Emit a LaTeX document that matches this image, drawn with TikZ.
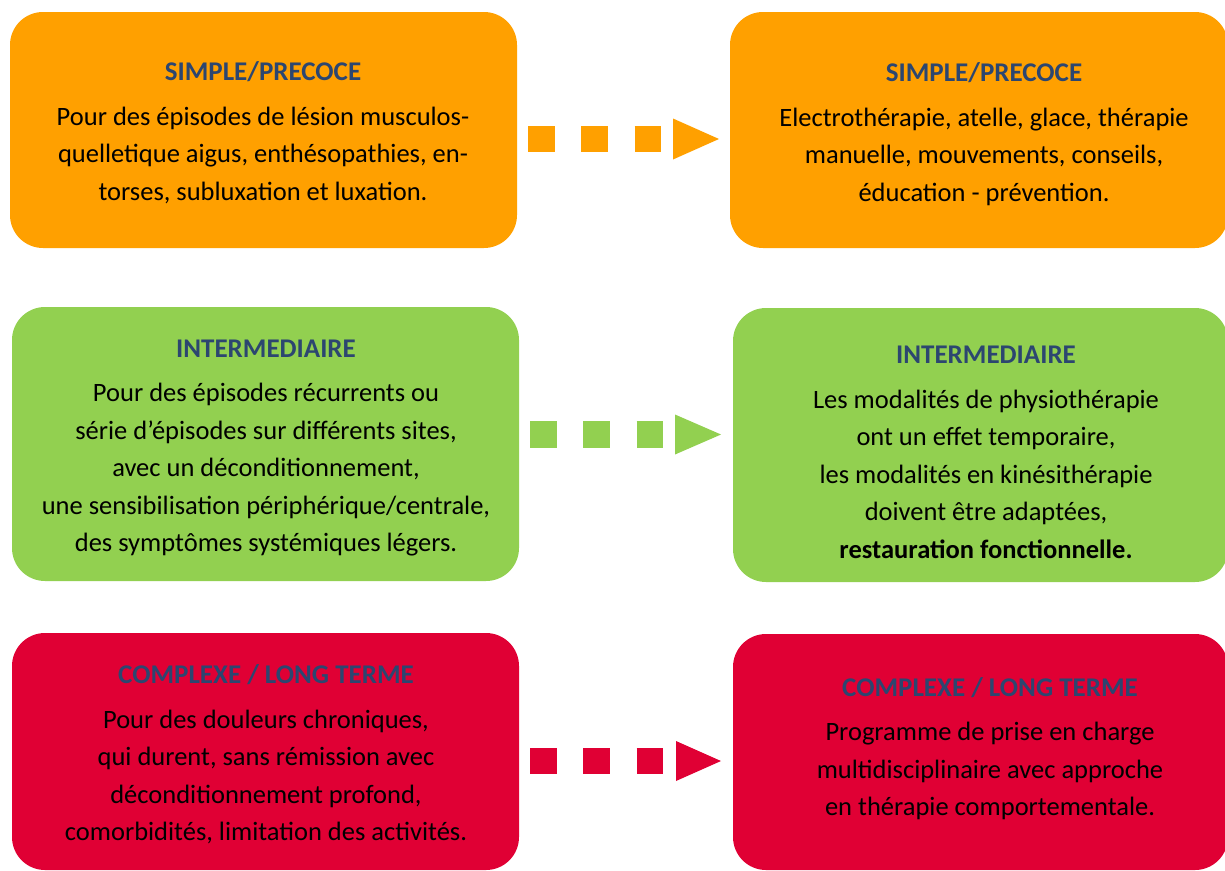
\documentclass[tikz,border=0pt]{standalone}
\usepackage{fontspec}
\setmainfont{Carlito}
\definecolor{cOrange}{RGB}{255,160,0}
\definecolor{cGreen}{RGB}{146,208,80}
\definecolor{cRed}{RGB}{224,0,52}
\definecolor{cTitle}{RGB}{44,70,112}
\newcommand\paneltitle[1]{{\fontsize{27}{37}\selectfont\bfseries\color{cTitle}#1}}

\begin{document}
\begin{tikzpicture}[x=1pt,y=-1pt,
  panel/.style={rectangle, rounded corners=33pt, inner sep=0pt, outer sep=0pt, draw=none},
  txt/.style={align=center, inner sep=0pt, font=\fontsize{26.5}{37.5}\selectfont},
  squares/.style={line width=26.5pt, line cap=butt, dash pattern=on 26.5pt off 26.8pt},
]
\useasboundingbox (0,0) rectangle (1225,870);

% ---- panels ----
\node[panel, fill=cOrange, minimum width=507, minimum height=236] (L1) at (263.5,130) {};
\node[panel, fill=cOrange, minimum width=498, minimum height=236] (R1) at (979,130) {};
\node[panel, fill=cGreen, minimum width=507, minimum height=274] (L2) at (265.5,444) {};
\node[panel, fill=cGreen, minimum width=495, minimum height=274] (R2) at (980.5,445) {};
\node[panel, fill=cRed, minimum width=507, minimum height=237] (L3) at (265.5,751.5) {};
\node[panel, fill=cRed, minimum width=495, minimum height=236] (R3) at (980.5,752) {};

% ---- texts ----
\node[txt] (L1t) at (263,132.5) {\paneltitle{SIMPLE/PRECOCE}\\[7pt]
  Pour des épisodes de lésion musculos-\\
  quelletique aigus, enthésopathies, en-\\
  torses, subluxation et luxation.};
\node[txt] (R1t) at (984,134) {\paneltitle{SIMPLE/PRECOCE}\\[7pt]
  Electrothérapie, atelle, glace, thérapie\\
  manuelle, mouvements, conseils,\\
  éducation - prévention.};
\node[txt] (L2t) at (266,448) {\paneltitle{INTERMEDIAIRE}\\[7pt]
  Pour des épisodes récurrents ou\\
  série d\char"27 épisodes sur différents sites,\\
  avec un déconditionnement,\\
  une sensibilisation périphérique/centrale,\\
  des symptômes systémiques légers.};
\node[txt] (R2t) at (986,452.5) {\paneltitle{INTERMEDIAIRE}\\[7pt]
  Les modalités de physiothérapie\\
  ont un effet temporaire,\\
  les modalités en kinésithérapie\\
  doivent être adaptées,\\
  \textbf{restauration fonctionnelle.}};
\node[txt] (L3t) at (266,754.5) {\paneltitle{COMPLEXE / LONG TERME}\\[7pt]
  Pour des douleurs chroniques,\\
  qui durent, sans rémission avec\\
  déconditionnement profond,\\
  comorbidités, limitation des activités.};
\node[txt] (R3t) at (990,748.5) {\paneltitle{COMPLEXE / LONG TERME}\\[7pt]
  Programme de prise en charge\\
  multidisciplinaire avec approche\\
  en thérapie comportementale.};

% ---- dotted arrows between panels ----
\coordinate (a1s) at (528,139);   \coordinate (a1e) at (661,139);   \coordinate (a1t) at (719,139);
\coordinate (a2s) at (530,434.5); \coordinate (a2e) at (663,434.5); \coordinate (a2t) at (721,434.5);
\coordinate (a3s) at (530,761);   \coordinate (a3e) at (664,761);   \coordinate (a3t) at (721,761);

\draw[squares, cOrange] (a1s) -- (a1e);
\fill[cOrange] (a1t) -- ++(-46,-20.5) -- ++(0,41) -- cycle;
\draw[squares, cGreen] (a2s) -- (a2e);
\fill[cGreen] (a2t) -- ++(-46,-20) -- ++(0,40) -- cycle;
\draw[squares, cRed] (a3s) -- (a3e);
\fill[cRed] (a3t) -- ++(-45,-20) -- ++(0,40) -- cycle;
\end{tikzpicture}
\end{document}
